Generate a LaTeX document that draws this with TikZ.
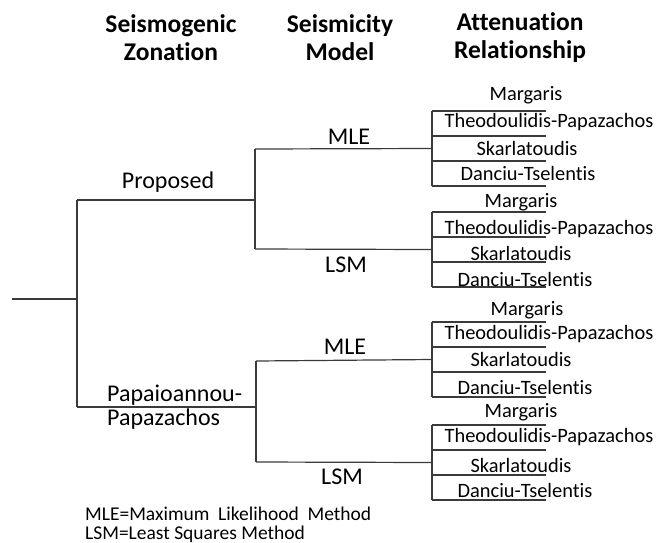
\documentclass[tikz,border=0pt]{standalone}
\usepackage{fontspec}
\setmainfont{Carlito}[Ligatures=NoCommon]
\definecolor{linec}{HTML}{3A3A3A}
\tikzset{
  conn/.style={draw=linec, line width=1.2pt},
  head/.style={font=\fontsize{25.5}{28}\selectfont\bfseries, align=center, inner sep=0pt},
  midlab/.style={font=\fontsize{24}{24}\selectfont, inner sep=0pt},
  leaf/.style={font=\fontsize{20.4}{20.4}\selectfont, inner sep=0pt},
  note/.style={font=\fontsize{19.5}{19.5}\selectfont, inner sep=0pt, anchor=west}
}
\begin{document}
\begin{tikzpicture}[x=1pt,y=-1pt]
\useasboundingbox (0,0) rectangle (656,542);
% headers
\node[head] (h1) at (171,38) {Seismogenic\\Zonation};
\node[head] (h2) at (340,38) {Seismicity\\Model};
\node[head] (h3) at (520,38) {Attenuation\\Relationship};
% root
\coordinate (r0) at (12,299);
\coordinate (r1) at (77,299);
\coordinate (zt) at (77,200);
\coordinate (zb) at (77,407);
\coordinate (zte) at (255,200);
\coordinate (zbe) at (256,407);
\draw[conn] (r0) -- (r1);
\draw[conn] (zt) -- (zb);
\draw[conn] (zt) -- (zte);
\draw[conn] (zb) -- (zbe);
\node[midlab] (prop) at (168,182) {Proposed};
\node[midlab, anchor=west] (pap1) at (107,395) {Papaioannou-};
\node[midlab, anchor=west] (pap2) at (107,419) {Papazachos};
% seismicity model
\coordinate (a1) at (255,149);
\coordinate (a2) at (255,249);
\coordinate (b1) at (256,361);
\coordinate (b2) at (256,462);
\draw[conn] (a1) -- (a2);
\draw[conn] (b1) -- (b2);
\node[midlab] (mle1) at (349,137) {MLE};
\node[midlab] (lsm1) at (346,265) {LSM};
\node[midlab] (mle2) at (345,347) {MLE};
\node[midlab] (lsm2) at (342,477) {LSM};
% brackets
\foreach \g/\t/\ya/\yb/\yc/\yd/\xm/\xs/\xd in {
  1/111/95/122/148/173/526/527/528,
  2/212/202/229/253/279/521/521/525,
  3/322/310/334/359/387/527/521/525,
  4/425/412/437/465/490/521/521/525}{
  \coordinate (g\g t) at (432,\t);
  \coordinate (g\g b) at (432,\t+75);
  \coordinate (g\g c) at (432,\t+37.5);
  \draw[conn] (g\g t) -- (g\g b);
  \foreach \k in {0,1,2,3}{
    \coordinate (g\g l\k) at (432,\t+25*\k);
    \coordinate (g\g r\k) at (546,\t+25*\k);
    \draw[conn] (g\g l\k) -- (g\g r\k);
  }
  \node[leaf] (m\g) at (\xm,\ya) {Margaris};
  \node[leaf] (t\g) at (549,\yb) {Theodoulidis-Papazachos};
  \node[leaf] (s\g) at (\xs,\yc) {Skarlatoudis};
  \node[leaf] (d\g) at (\xd,\yd) {Danciu-Tselentis};
}
\draw[conn] (a1) -- (g1c);
\draw[conn] (a2) -- (g2c);
\draw[conn] (b1) -- (g3c);
\draw[conn] (b2) -- (g4c);
% notes
\node[note] (n1) at (85,514) {MLE=Maximum\ \ Likelihood\ \ Method};
\node[note] (n2) at (85,534) {LSM=Least Squares Method};
\end{tikzpicture}
\end{document}
